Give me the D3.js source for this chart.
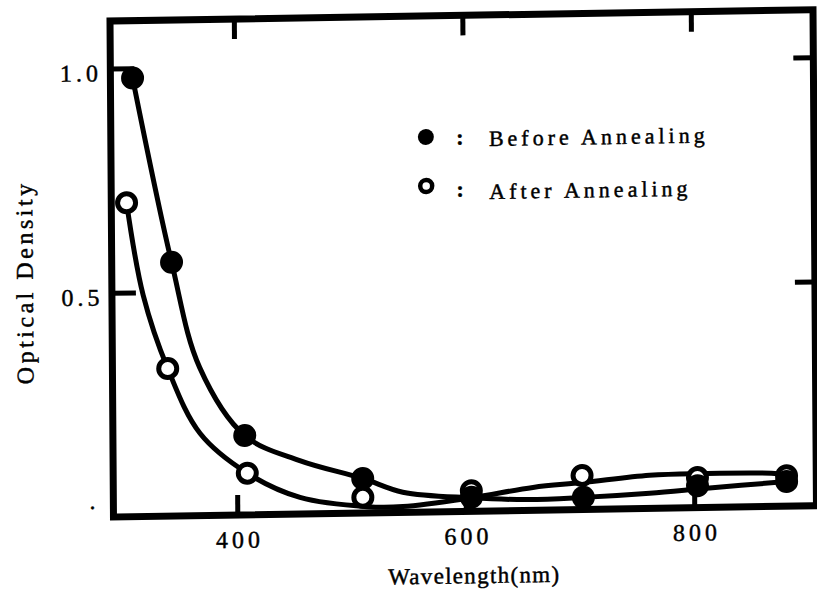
<!DOCTYPE html>
<html>
<head>
<meta charset="utf-8">
<script src="https://cdn.jsdelivr.net/npm/d3@7"></script>
<style>
  html, body { margin: 0; padding: 0; background: #fff; }
  svg { display: block; }
  svg text { font-family: "Liberation Serif", "DejaVu Serif", serif !important; fill: #000; stroke: #000; stroke-width: 0.45px; }
</style>
</head>
<body>
<svg id="chart" width="817" height="599" font-family="Liberation Serif"></svg>
<script>
// Measured points: optical density before / after annealing
const beforeWavelength = [311, 344, 407, 510, 605, 703, 803, 881];
const beforeDensity    = [0.978, 0.566, 0.177, 0.077, 0.031, 0.027, 0.049, 0.055];
const afterWavelength  = [305, 340, 409, 510, 605, 702, 803, 881];
const afterDensity     = [0.70, 0.329, 0.093, 0.035, 0.046, 0.076, 0.067, 0.068];

// Hand-drawn smooth curves through the measurements
const beforeCurveWavelength = [311, 344, 368, 407, 455, 510, 545, 605, 655, 703, 761, 811, 881];
const beforeCurveDensity    = [0.978, 0.566, 0.33, 0.177, 0.119, 0.077, 0.045, 0.03, 0.024, 0.027, 0.034, 0.043, 0.055];
const afterCurveWavelength  = [305, 319, 340, 368, 409, 455, 514, 545, 605, 659, 702, 761, 803, 873, 881];
const afterCurveDensity     = [0.70, 0.493, 0.329, 0.183, 0.093, 0.037, 0.014, 0.013, 0.03, 0.051, 0.060, 0.074, 0.076, 0.073, 0.068];

// Axis ticks
const xTickValues = [400, 600, 800];
const yTickValues = [0, 0.5, 1.0];
const yTickLabels = [".", "0.5", "1.0"];

const legendItems = [
  { label: "Before Annealing", filled: true },
  { label: "After Annealing", filled: false }
];

(function draw() {
  const SERIF = "Liberation Serif";
  const W = 703, H = 496;
  const svg = d3.select("#chart");
  // plot area (the printed figure sits slightly skewed on the page)
  const g = svg.append("g").attr("transform", "matrix(1,-0.016,0.007,1,110,21)");

  const x = d3.scaleLinear().domain([291.6, 907]).range([0, W]);
  const y = d3.scaleLinear().domain([0, 1.106]).range([H, 0]);

  // ---- axes (inward ticks) ----
  function styleAxis(sel) {
    sel.attr("font-family", SERIF);
    sel.select(".domain").remove();
    sel.selectAll(".tick line").attr("stroke", "#000").attr("stroke-width", 5);
  }
  const fontTick = 24, lsTick = 4;

  const axisB = g.append("g").attr("transform", `translate(0,${H})`)
    .call(d3.axisBottom(x).tickValues(xTickValues).tickFormat(d => d).tickSize(-20));
  styleAxis(axisB);
  axisB.selectAll(".tick text")
    .attr("y", 33).attr("dy", 0).attr("dx", lsTick / 2)
    .attr("font-family", SERIF)
    .style("font-size", fontTick + "px").style("letter-spacing", lsTick + "px");

  const axisT = g.append("g")
    .call(d3.axisTop(x).tickValues(xTickValues).tickFormat("").tickSize(-20));
  styleAxis(axisT);

  const axisL = g.append("g")
    .call(d3.axisLeft(y).tickValues(yTickValues)
      .tickFormat((d, i) => yTickLabels[i]).tickSize(-24));
  styleAxis(axisL);
  // the zero label is only a faint dot sitting a little above the baseline
  axisL.selectAll(".tick text")
    .attr("x", d => d === 0 ? -14 : -8.5)
    .attr("y", d => d === 0 ? -9 : 12).attr("dy", 0)
    .attr("font-family", SERIF)
    .style("font-size", fontTick + "px").style("letter-spacing", lsTick + "px");

  const axisR = g.append("g").attr("transform", `translate(${W},0)`)
    .call(d3.axisRight(y).tickValues(yTickValues.filter(v => v > 0)).tickFormat("").tickSize(-20));
  styleAxis(axisR);

  // ---- frame ----
  g.append("rect")
    .attr("x", 0).attr("y", 0).attr("width", W).attr("height", H)
    .attr("fill", "none").attr("stroke", "#000").attr("stroke-width", 7);

  // ---- axis titles ----
  g.append("text")
    .attr("x", x(600) + 8).attr("y", H + 72)
    .attr("text-anchor", "middle")
    .attr("font-family", SERIF)
    .style("font-size", "23px").style("letter-spacing", "1.3px")
    .text("Wavelength(nm)");

  g.append("text")
    .attr("transform", `translate(-79,${H / 2 + 12}) rotate(-90)`)
    .attr("text-anchor", "middle")
    .attr("font-family", SERIF)
    .style("font-size", "24px").style("letter-spacing", "3.5px")
    .text("Optical Density");

  // ---- curves ----
  const line = d3.line()
    .x(d => x(d[0])).y(d => y(d[1]))
    .curve(d3.curveCatmullRom.alpha(0.5));

  g.append("path")
    .datum(afterCurveWavelength.map((w, i) => [w, afterCurveDensity[i]]))
    .attr("d", line).attr("fill", "none").attr("stroke", "#000").attr("stroke-width", 5);
  g.append("path")
    .datum(beforeCurveWavelength.map((w, i) => [w, beforeCurveDensity[i]]))
    .attr("d", line).attr("fill", "none").attr("stroke", "#000").attr("stroke-width", 5);

  // ---- markers ----
  g.append("g").selectAll("circle")
    .data(afterWavelength.map((w, i) => [w, afterDensity[i]]))
    .join("circle")
    .attr("cx", d => x(d[0])).attr("cy", d => y(d[1])).attr("r", 9)
    .attr("fill", "#fff").attr("stroke", "#000").attr("stroke-width", 5);

  g.append("g").selectAll("circle")
    .data(beforeWavelength.map((w, i) => [w, beforeDensity[i]]))
    .join("circle")
    .attr("cx", d => x(d[0])).attr("cy", d => y(d[1])).attr("r", 11.5)
    .attr("fill", "#000");

  // ---- legend ----
  const legend = g.append("g").attr("transform", "translate(315,121)");
  legendItems.forEach((item, i) => {
    const row = legend.append("g").attr("transform", `translate(0,${i * 49})`);
    if (item.filled) {
      row.append("circle").attr("r", 8).attr("fill", "#000");
    } else {
      row.append("circle").attr("r", 6).attr("fill", "#fff")
        .attr("stroke", "#000").attr("stroke-width", 4.5);
    }
    row.append("text").attr("x", 34).attr("y", 8 + i * 3)
      .attr("text-anchor", "middle")
      .attr("font-family", SERIF)
      .style("font-size", "22px").style("font-weight", "bold")
      .text(":");
    row.append("text").attr("x", 63).attr("y", 10 + i * 4)
      .attr("font-family", SERIF)
      .style("font-size", "22px").style("letter-spacing", "4px")
      .text(item.label);
  });
})();
</script>
</body>
</html>
